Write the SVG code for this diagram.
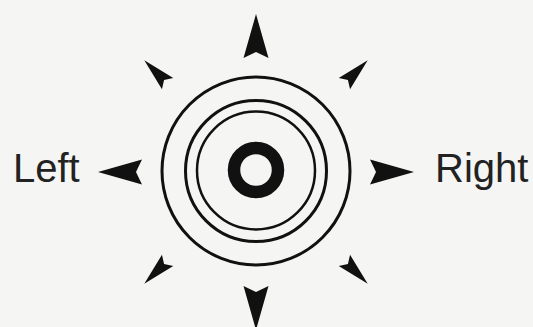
<svg xmlns="http://www.w3.org/2000/svg" xmlns:xlink="http://www.w3.org/1999/xlink" width="533" height="327" viewBox="0 0 533 327">
<style>
.ring{fill:none;stroke:#111}
.arr{fill:#111}
.lbl{font-family:"Liberation Sans",Arial,sans-serif;font-size:40px;fill:#222}
</style>
<defs>
<path id="big" class="arr" d="M0,-158 L12.5,-114 L0,-120 L-12.5,-114 Z"/>
<path id="small" class="arr" d="M0,-158 L8,-125 L0,-130 L-8,-125 Z"/>
</defs>
<rect width="533" height="327" fill="#f5f5f3"/>
<g id="target">
<circle class="ring" cx="256" cy="171" r="94" stroke-width="3"/>
<circle class="ring" cx="256" cy="171" r="70.5" stroke-width="3"/>
<circle class="ring" cx="256" cy="170.5" r="59" stroke-width="2.5"/>
<circle class="ring" cx="256" cy="170" r="22" stroke-width="12.5"/>
</g>
<g id="arrows" transform="translate(256,172)">
<use xlink:href="#big"/>
<use xlink:href="#big" transform="rotate(90)"/>
<use xlink:href="#big" transform="rotate(180)"/>
<use xlink:href="#big" transform="rotate(270)"/>
<use xlink:href="#small" transform="rotate(45)"/>
<use xlink:href="#small" transform="rotate(135)"/>
<use xlink:href="#small" transform="rotate(225)"/>
<use xlink:href="#small" transform="rotate(315)"/>
</g>
<g id="left"><text class="lbl" x="13" y="182">Left</text></g>
<g id="right"><text class="lbl" x="435" y="182">Right</text></g>
</svg>
